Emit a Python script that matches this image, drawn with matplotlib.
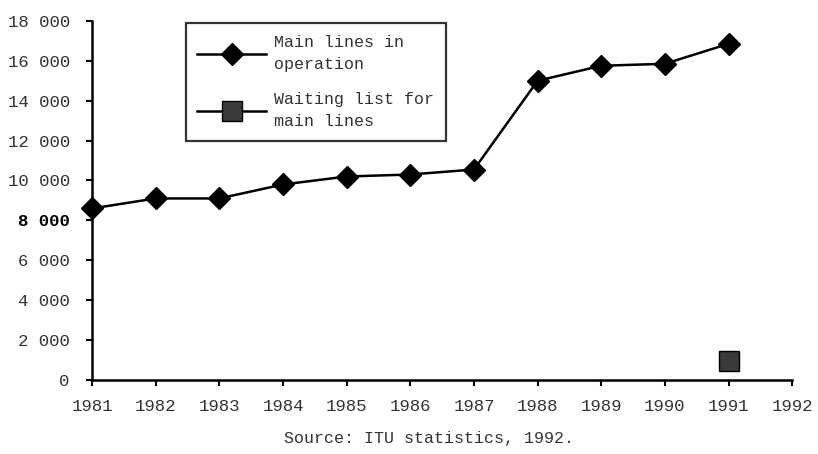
import matplotlib.pyplot as plt
from matplotlib.ticker import FuncFormatter

# Telephone main lines, 1981-1991
years = [1981, 1982, 1983, 1984, 1985, 1986, 1987, 1988, 1989, 1990, 1991]
main_lines = [8600, 9100, 9100, 9800, 10200, 10300, 10550, 15000, 15750, 15850, 16850]

# Waiting list only reported for 1991
wait_years = [1991]
waiting_list = [950]

font = 'Liberation Mono'
txt_color = '#333333'

fig = plt.figure(figsize=(8.18, 4.54), dpi=100)
ax = fig.add_axes([0.1125, 0.163, 0.856, 0.791])

ax.plot(years, main_lines, color='black', linewidth=1.8, marker='D',
        markersize=11, markerfacecolor='black', markeredgecolor='black',
        label='Main lines in\noperation', clip_on=False, zorder=3)
ax.plot(wait_years, waiting_list, color='black', linewidth=1.8,
        marker='s', markersize=14, markerfacecolor='#3a3a3a', markeredgecolor='black',
        label='Waiting list for\nmain lines', clip_on=False, zorder=3)

ax.set_xlim(1981, 1992)
ax.set_ylim(0, 18000)
ax.set_xticks(range(1981, 1993))
ax.set_yticks(range(0, 18001, 2000))
ax.yaxis.set_major_formatter(FuncFormatter(lambda v, p: f'{int(v):,}'.replace(',', ' ')))

for side in ['top', 'right']:
    ax.spines[side].set_visible(False)
for side in ['left', 'bottom']:
    ax.spines[side].set_linewidth(1.8)

ax.tick_params(axis='y', direction='out', length=4, width=1.5, pad=12)
ax.tick_params(axis='x', direction='out', length=4, width=1.5, pad=10)
for lab in ax.get_xticklabels() + ax.get_yticklabels():
    lab.set_fontfamily(font)
    lab.set_fontsize(12.5)
    lab.set_color(txt_color)
# the 8 000 label is printed darker
for lab in ax.get_yticklabels():
    if lab.get_text() == '8 000':
        lab.set_fontweight('bold')
        lab.set_color('black')

leg = ax.legend(loc='upper left', bbox_to_anchor=(0.227, 0.949),
                bbox_transform=fig.transFigure, frameon=True, fancybox=False,
                prop={'family': font, 'size': 12}, handlelength=4.1,
                labelspacing=1.2, borderpad=0.7, handletextpad=0.5,
                borderaxespad=0)
leg.get_frame().set_edgecolor('black')
leg.get_frame().set_linewidth(1.6)
leg.set_zorder(5)
for t in leg.get_texts():
    t.set_color(txt_color)
    t.set_linespacing(1.6)

fig.text(0.525, 0.035, 'Source: ITU statistics, 1992.', ha='center', va='center',
         fontfamily=font, fontsize=12, color=txt_color)

fig.savefig('out.png', dpi=100, facecolor='white')
